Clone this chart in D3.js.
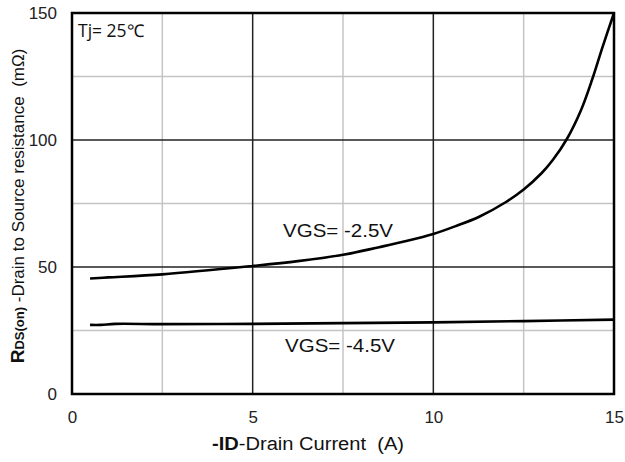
<!DOCTYPE html>
<html>
<head>
    <meta charset="utf-8">
    <title>RDS(on) vs Drain Current</title>
    <script src="https://d3js.org/d3.v7.min.js"></script>
    <style>
        body { margin: 0; background: #fff; }
        svg { display: block; }
    </style>
</head>
<body>
    <script>
        // curve for VGS = -2.5V
        const id25 = [0.5, 1, 2.5, 5, 6.25, 7.5, 8.5, 9.25, 10, 10.6, 11.27, 12, 12.5, 13, 13.3, 13.7, 14.08, 14.4, 14.68, 15];
        const r25 = [45.5, 45.9, 47.1, 50.4, 52.3, 54.8, 57.8, 60.2, 63, 66, 69.8, 75.5, 80.5, 87, 92, 100.5, 111.5, 124, 136.5, 150];
        // curve for VGS = -4.5V
        const id45 = [0.5, 0.8, 1.2, 2.5, 5, 7.5, 10, 12.5, 15];
        const r45 = [27.2, 27.2, 27.6, 27.5, 27.6, 27.9, 28.2, 28.7, 29.3];

        const xTicks = [0, 5, 10, 15];
        const yTicks = [0, 50, 100, 150];
        const xMinor = [2.5, 7.5, 12.5];
        const yMinor = [25, 75, 125];

        const width = 625, height = 462;
        const margin = { top: 13, right: 11, bottom: 68, left: 72 };

        const x = d3.scaleLinear().domain([0, 15]).range([margin.left, width - margin.right]);
        const y = d3.scaleLinear().domain([0, 150]).range([height - margin.bottom, margin.top]);

        const svg = d3.select("body").append("svg")
            .attr("width", width)
            .attr("height", height)
            .style("font-family", "Liberation Sans, Arial, sans-serif");

        const grid = svg.append("g");

        // light grid first
        grid.selectAll(".vminor").data(xMinor).enter().append("line")
            .attr("x1", d => x(d)).attr("x2", d => x(d))
            .attr("y1", y(0)).attr("y2", y(150))
            .style("stroke", "#c4c4c4").style("stroke-width", 1.5);
        grid.selectAll(".hminor").data(yMinor).enter().append("line")
            .attr("y1", d => y(d)).attr("y2", d => y(d))
            .attr("x1", x(0)).attr("x2", x(15))
            .style("stroke", "#c4c4c4").style("stroke-width", 1.5);

        // darker grid
        grid.selectAll(".vmajor").data([5, 10]).enter().append("line")
            .attr("x1", d => x(d)).attr("x2", d => x(d))
            .attr("y1", y(0)).attr("y2", y(150))
            .style("stroke", "#222").style("stroke-width", 1.5);
        grid.selectAll(".hmajor").data([50, 100]).enter().append("line")
            .attr("y1", d => y(d)).attr("y2", d => y(d))
            .attr("x1", x(0)).attr("x2", x(15))
            .style("stroke", "#222").style("stroke-width", 1.5);

        // axes (labels only, the frame is drawn separately)
        const xAxis = svg.append("g")
            .attr("transform", `translate(0,${y(0)})`)
            .call(d3.axisBottom(x).tickValues(xTicks).tickSize(0).tickPadding(17));
        const yAxis = svg.append("g")
            .attr("transform", `translate(${x(0)},0)`)
            .call(d3.axisLeft(y).tickValues(yTicks).tickSize(0).tickPadding(15));
        [xAxis, yAxis].forEach(a => {
            a.select(".domain").remove();
            a.selectAll("text")
                .style("font-family", "Liberation Sans, Arial, sans-serif")
                .style("font-size", "17px")
                .style("fill", "#222");
        });

        // frame
        svg.append("rect")
            .attr("x", x(0)).attr("y", y(150))
            .attr("width", x(15) - x(0)).attr("height", y(0) - y(150))
            .style("fill", "none").style("stroke", "#000").style("stroke-width", 2.5);

        const line = d3.line()
            .x(d => x(d[0]))
            .y(d => y(d[1]))
            .curve(d3.curveCatmullRom.alpha(0.5));

        svg.append("path")
            .datum(d3.zip(id25, r25))
            .attr("d", line)
            .style("fill", "none").style("stroke", "#000").style("stroke-width", 2.6);

        svg.append("path")
            .datum(d3.zip(id45, r45))
            .attr("d", line)
            .style("fill", "none").style("stroke", "#000").style("stroke-width", 2.6);

        // annotations
        svg.append("text")
            .attr("x", 78).attr("y", 37)
            .style("font-family", "Open Sans, sans-serif")
            .style("font-size", "17.5px")
            .style("fill", "#111")
            .text("Tj= 25℃");

        svg.append("text")
            .attr("x", 283).attr("y", 237)
            .attr("textLength", 110).attr("lengthAdjust", "spacingAndGlyphs")
            .style("font-size", "18px").style("fill", "#111")
            .text("VGS= -2.5V");

        svg.append("text")
            .attr("x", 285).attr("y", 352)
            .attr("textLength", 110).attr("lengthAdjust", "spacingAndGlyphs")
            .style("font-size", "18px").style("fill", "#111")
            .text("VGS= -4.5V");

        // axis titles
        const xt = svg.append("text")
            .attr("x", 212).attr("y", 450)
            .attr("textLength", 192).attr("lengthAdjust", "spacingAndGlyphs")
            .style("font-size", "18px").style("fill", "#111");
        xt.append("tspan").style("font-weight", "bold").text("-ID");
        xt.append("tspan").text("-Drain Current\u00a0 (A)");

        const yt = svg.append("text")
            .attr("transform", `translate(24,${206}) rotate(-90)`)
            .attr("text-anchor", "middle")
            .style("font-size", "17px").style("fill", "#111");
        yt.append("tspan").style("font-weight", "bold").style("font-size", "19px").text("R");
        yt.append("tspan").style("font-weight", "bold").style("font-size", "13px").text("DS(on)");
        yt.append("tspan").text(" -Drain to Source resistance\u00a0 (mΩ)");
    </script>
</body>
</html>
